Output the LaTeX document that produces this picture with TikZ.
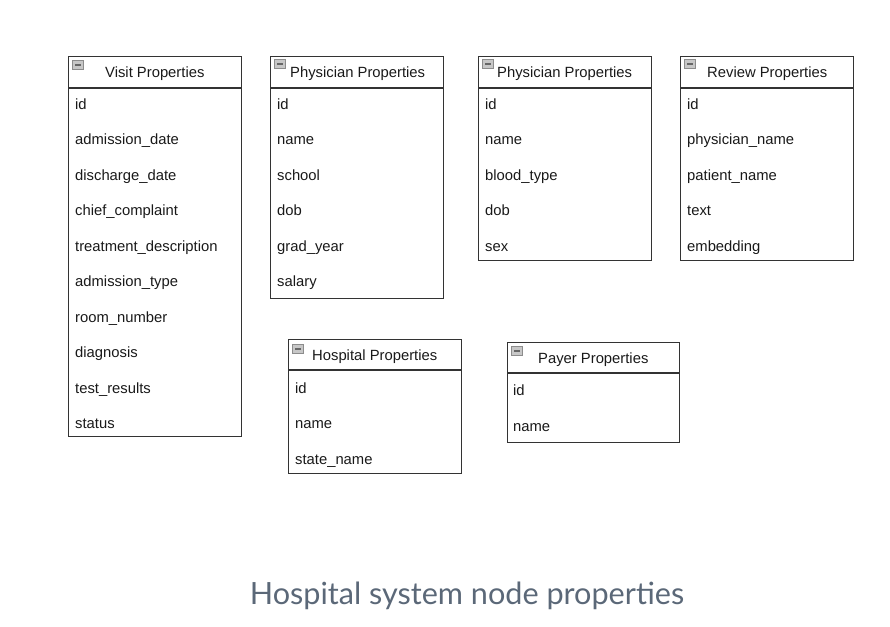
\documentclass[tikz,border=0pt]{standalone}
\usepackage{fontspec}
\setmainfont{Liberation Sans}
\newfontfamily\captionfont{Lato}
\definecolor{captiongray}{HTML}{5B6878}
\tikzset{
  tablebox/.style={draw=black!80, line width=1.2pt, anchor=north west, inner sep=0pt, minimum width=173pt},
  prop/.style={anchor=base west, inner sep=0pt, font=\fontsize{14.8}{16}\selectfont, text=black!90},
  title/.style={anchor=base west, inner sep=0pt, font=\fontsize{14.8}{16}\selectfont, text=black!90},
  minusicon/.style={draw=black!45, fill=black!22, line width=0.7pt, minimum width=11pt, minimum height=9pt, inner sep=0pt},
}
\newcommand{\headline}[2]{\draw[draw=black!80, line width=1.2pt] ([yshift=-#2pt]#1.north west) -- ([yshift=-#2pt]#1.north east);}
\newcommand{\minus}[1]{\draw[black!60, line width=1.2pt] ([xshift=-3pt]#1.center) -- ([xshift=3pt]#1.center);}
\begin{document}
\begin{tikzpicture}[x=1pt,y=-1pt]
\useasboundingbox (0,0) rectangle (890,626);
    % tables
    \node[tablebox, minimum height=380pt] (visit) at (68,56) {};
    \node[tablebox, minimum height=242pt] (phys) at (270,56) {};
    \node[tablebox, minimum height=204pt] (physb) at (478,56) {};
    \node[tablebox, minimum height=204pt] (review) at (680,56) {};
    \node[tablebox, minimum height=134pt] (hosp) at (288,339) {};
    \node[tablebox, minimum height=100pt, minimum width=172pt] (payer) at (507,342) {};
    \headline{visit}{32}
    \headline{phys}{32}
    \headline{physb}{32}
    \headline{review}{32}
    \headline{hosp}{31}
    \headline{payer}{31}
    % headers
    \node[minusicon] (visit-icon) at (78,65) {}; \minus{visit-icon}
    \node[minusicon] (phys-icon) at (280,64) {}; \minus{phys-icon}
    \node[minusicon] (physb-icon) at (488,64) {}; \minus{physb-icon}
    \node[minusicon] (review-icon) at (690,64) {}; \minus{review-icon}
    \node[minusicon] (hosp-icon) at (298,349) {}; \minus{hosp-icon}
    \node[minusicon] (payer-icon) at (517,351) {}; \minus{payer-icon}
    \node[title] (visit-title) at (105,77) {Visit Properties};
    \node[title] (phys-title) at (290,77) {Physician Properties};
    \node[title] (physb-title) at (497,77) {Physician Properties};
    \node[title] (review-title) at (707,77) {Review Properties};
    \node[title] (hosp-title) at (312,360) {Hospital Properties};
    \node[title] (payer-title) at (538,363) {Payer Properties};
    % properties
    \foreach \t [count=\i] in {id, admission\_date, discharge\_date, chief\_complaint, treatment\_description, admission\_type, room\_number, diagnosis, test\_results, status}
        \node[prop] (visit-\i) at (75,109+35.5*\i-35.5) {\t};
    \foreach \t [count=\i] in {id, name, school, dob, grad\_year, salary}
        \node[prop] (phys-\i) at (277,109+35.5*\i-35.5) {\t};
    \foreach \t [count=\i] in {id, name, blood\_type, dob, sex}
        \node[prop] (physb-\i) at (485,109+35.5*\i-35.5) {\t};
    \foreach \t [count=\i] in {id, physician\_name, patient\_name, text, embedding}
        \node[prop] (review-\i) at (687,109+35.5*\i-35.5) {\t};
    \foreach \t [count=\i] in {id, name, state\_name}
        \node[prop] (hosp-\i) at (295,393+35.5*\i-35.5) {\t};
    \foreach \t [count=\i] in {id, name}
        \node[prop] (payer-\i) at (513,395+36*\i-36) {\t};
    % caption
    \node[font=\captionfont\fontsize{30.6}{34}\selectfont, text=captiongray, inner sep=0pt] (caption) at (467,596) {Hospital system node properties};
\end{tikzpicture}
\end{document}
